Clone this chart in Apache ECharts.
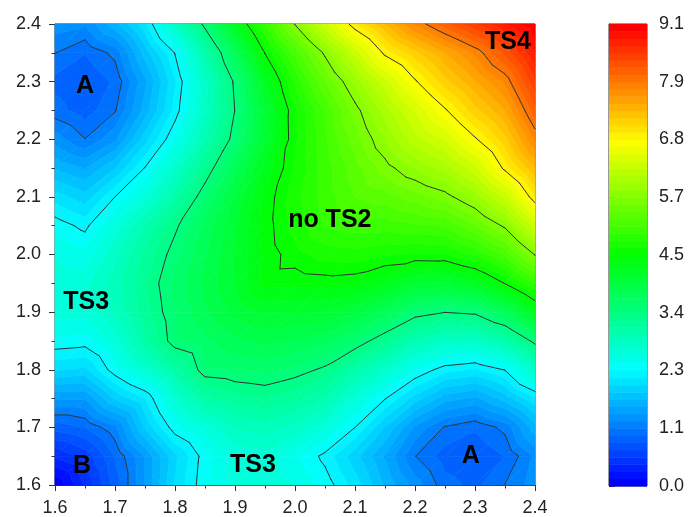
<!DOCTYPE html>
<html>
<head>
<meta charset="utf-8">
<script src="https://cdn.jsdelivr.net/npm/echarts@6/dist/echarts.min.js"></script>
<style>
  html, body { margin: 0; padding: 0; background: #fff; }
  #chart { width: 693px; height: 517px; }
</style>
</head>
<body>
<div id="chart"></div>
<script>
  // grid nodes (x = columns, y = rows)
  var xs = [1.60, 1.65, 1.70, 1.75, 1.80, 1.85, 1.90, 1.95, 2.00, 2.05, 2.10, 2.15, 2.20, 2.25, 2.30, 2.35, 2.40];
  var ys = [1.60, 1.65, 1.70, 1.75, 1.80, 1.85, 1.90, 1.95, 2.00, 2.05, 2.10, 2.15, 2.20, 2.25, 2.30, 2.35, 2.40];

  // energy, one row per y (bottom to top)
  var energy = [
    [0.00, 0.45, 0.91, 1.43, 2.00, 2.38, 2.60, 2.65, 2.55, 2.36, 2.06, 1.68, 1.35, 1.05, 0.95, 1.14, 1.35],
    [0.45, 0.62, 1.00, 1.43, 1.95, 2.35, 2.60, 2.65, 2.45, 2.22, 1.90, 1.55, 1.14, 0.92, 0.86, 1.00, 1.30],
    [0.91, 1.00, 1.25, 1.86, 2.37, 2.62, 2.85, 2.90, 2.80, 2.60, 2.27, 1.84, 1.39, 1.12, 1.02, 1.18, 1.65],
    [1.43, 1.43, 1.86, 2.12, 2.69, 3.08, 3.20, 3.25, 3.15, 3.00, 2.62, 2.28, 1.92, 1.62, 1.53, 1.76, 2.10],
    [2.00, 1.95, 2.37, 2.69, 3.07, 3.51, 3.55, 3.59, 3.50, 3.36, 3.05, 2.75, 2.42, 2.18, 2.11, 2.28, 2.79],
    [2.38, 2.35, 2.62, 3.08, 3.51, 3.65, 3.80, 3.87, 3.81, 3.73, 3.54, 3.26, 2.96, 2.80, 2.77, 3.00, 3.48],
    [2.60, 2.60, 2.85, 3.20, 3.55, 3.80, 4.02, 4.13, 4.12, 4.10, 3.99, 3.77, 3.50, 3.41, 3.45, 3.76, 4.25],
    [2.65, 2.65, 2.90, 3.25, 3.59, 3.87, 4.13, 4.45, 4.44, 4.46, 4.43, 4.29, 4.10, 4.07, 4.22, 4.55, 4.98],
    [2.55, 2.45, 2.80, 3.15, 3.50, 3.81, 4.12, 4.44, 4.63, 4.74, 4.77, 4.70, 4.66, 4.67, 4.85, 5.14, 5.69],
    [2.36, 2.22, 2.60, 3.00, 3.36, 3.73, 4.10, 4.46, 4.74, 4.98, 5.03, 5.03, 5.08, 5.12, 5.38, 5.72, 6.33],
    [2.06, 1.90, 2.27, 2.62, 3.05, 3.54, 3.99, 4.43, 4.77, 5.03, 5.25, 5.33, 5.46, 5.60, 5.87, 6.29, 6.93],
    [1.68, 1.55, 1.84, 2.28, 2.75, 3.26, 3.77, 4.29, 4.70, 5.03, 5.33, 5.60, 5.83, 6.02, 6.33, 6.86, 7.37],
    [1.35, 1.14, 1.39, 1.92, 2.42, 2.96, 3.50, 4.10, 4.66, 5.08, 5.46, 5.83, 6.18, 6.40, 6.78, 7.18, 7.82],
    [1.05, 0.92, 1.12, 1.62, 2.18, 2.80, 3.41, 4.07, 4.67, 5.12, 5.60, 6.02, 6.40, 6.78, 7.18, 7.51, 8.17],
    [0.95, 0.86, 1.02, 1.53, 2.11, 2.77, 3.45, 4.22, 4.85, 5.38, 5.87, 6.33, 6.78, 7.18, 7.50, 7.83, 8.48],
    [1.14, 1.00, 1.18, 1.76, 2.28, 3.00, 3.76, 4.55, 5.14, 5.72, 6.29, 6.86, 7.18, 7.51, 7.83, 8.27, 8.79],
    [1.35, 1.30, 1.65, 2.10, 2.79, 3.48, 4.25, 4.98, 5.69, 6.33, 6.93, 7.37, 7.82, 8.17, 8.48, 8.79, 9.08]
  ];

  var zMin = 0;
  var zMax = 9.08;
  var nBands = 64;
  var lineLevels = [1.135, 2.27, 3.405, 4.54, 5.675, 6.81, 7.945];

  var pointLabels = ['A', 'A', 'B', 'TS3', 'TS3', 'no TS2', 'TS4'];
  var labelX = [1.650, 2.293, 1.645, 1.652, 1.930, 2.058, 2.355];
  var labelY = [2.292, 1.650, 1.633, 1.917, 1.634, 2.060, 2.369];

  var step = (zMax - zMin) / nBands;

  // rainbow: blue - cyan - green - yellow - red
  var stops = [[0, 0, 255], [0, 255, 255], [0, 255, 0], [255, 255, 0], [255, 0, 0]];
  function rainbow(t) {
    t = Math.max(0, Math.min(1, t)) * (stops.length - 1);
    var k = Math.min(Math.floor(t), stops.length - 2), f = t - k;
    var a = stops[k], b = stops[k + 1];
    return 'rgb(' + Math.round(a[0] + f * (b[0] - a[0])) + ',' +
      Math.round(a[1] + f * (b[1] - a[1])) + ',' + Math.round(a[2] + f * (b[2] - a[2])) + ')';
  }
  var bandColors = [];
  for (var k = 0; k < nBands; k++) bandColors.push(rainbow(k / (nBands - 1)));

  function clip(poly, level, keepAbove) {
    var out = [];
    for (var k = 0; k < poly.length; k++) {
      var a = poly[k], b = poly[(k + 1) % poly.length];
      var ina = keepAbove ? a[2] >= level : a[2] <= level;
      var inb = keepAbove ? b[2] >= level : b[2] <= level;
      if (ina) out.push(a);
      if (ina !== inb) {
        var t = (level - a[2]) / (b[2] - a[2]);
        out.push([a[0] + t * (b[0] - a[0]), a[1] + t * (b[1] - a[1]), level]);
      }
    }
    return out;
  }

  function cellTriangles(api) {
    var i = api.value(2), j = api.value(3);
    var p00 = api.coord([xs[i], ys[j]]), p10 = api.coord([xs[i + 1], ys[j]]);
    var p01 = api.coord([xs[i], ys[j + 1]]), p11 = api.coord([xs[i + 1], ys[j + 1]]);
    var a = [p00[0], p00[1], energy[j][i]];
    var b = [p10[0], p10[1], energy[j][i + 1]];
    var c = [p11[0], p11[1], energy[j + 1][i + 1]];
    var d = [p01[0], p01[1], energy[j + 1][i]];
    return [[a, b, c], [a, c, d]];
  }

  function renderFill(params, api) {
    var children = [];
    cellTriangles(api).forEach(function (tri) {
      var vs = tri.map(function (p) { return p[2]; });
      var k0 = Math.max(0, Math.floor((Math.min.apply(null, vs) - zMin) / step));
      var k1 = Math.min(nBands - 1, Math.floor((Math.max.apply(null, vs) - zMin) / step));
      for (var k = k0; k <= k1; k++) {
        var lo = zMin + k * step, hi = k === nBands - 1 ? 1e9 : lo + step;
        var poly = clip(clip(tri, lo, true), hi, false);
        if (poly.length < 3) continue;
        children.push({
          type: 'polygon',
          shape: { points: poly.map(function (p) { return [p[0], p[1]]; }) },
          style: { fill: bandColors[k], stroke: bandColors[k], lineWidth: 0.7 }
        });
      }
    });
    return { type: 'group', children: children };
  }

  function renderLines(params, api) {
    var children = [];
    cellTriangles(api).forEach(function (tri) {
      lineLevels.forEach(function (L) {
        var pts = [];
        for (var k = 0; k < 3; k++) {
          var a = tri[k], b = tri[(k + 1) % 3];
          if ((a[2] >= L) !== (b[2] >= L)) {
            var t = (L - a[2]) / (b[2] - a[2]);
            pts.push([a[0] + t * (b[0] - a[0]), a[1] + t * (b[1] - a[1])]);
          }
        }
        if (pts.length === 2) {
          children.push({
            type: 'line',
            shape: { x1: pts[0][0], y1: pts[0][1], x2: pts[1][0], y2: pts[1][1] },
            style: { stroke: '#333', lineWidth: 1, lineCap: 'round' }
          });
        }
      });
    });
    return { type: 'group', children: children };
  }

  function renderBar(params, api) {
    var k = api.value(2);
    var p0 = api.coord([0, zMin + k * step]);
    var p1 = api.coord([1, zMin + (k + 1) * step]);
    return {
      type: 'rect',
      shape: { x: p0[0], y: p1[1], width: p1[0] - p0[0], height: p0[1] - p1[1] + 0.5 },
      style: { fill: bandColors[k] }
    };
  }

  var cells = [];
  for (var j = 0; j < ys.length - 1; j++) {
    for (var i = 0; i < xs.length - 1; i++) cells.push([xs[i], ys[j], i, j]);
  }
  var bands = [];
  for (var k = 0; k < nBands; k++) bands.push([0.5, zMin + (k + 0.5) * step, k]);

  var labelData = pointLabels.map(function (n, idx) {
    return { name: n, value: [labelX[idx], labelY[idx]] };
  });

  var fontName = 'Liberation Sans, Arial, sans-serif';
  var axisText = { fontSize: 18, color: '#222', fontFamily: fontName };
  function mainAxis(pos) {
    return {
      type: 'value', gridIndex: 0, position: pos, min: 1.6, max: 2.4, interval: 0.1,
      axisLine: { show: true, lineStyle: { color: '#333', width: 1 } },
      axisTick: { show: true, inside: false, length: 6, lineStyle: { color: '#333' } },
      minorTick: { show: true, splitNumber: 2, length: 3.5, lineStyle: { color: '#333' } },
      splitLine: { show: false }, minorSplitLine: { show: false },
      axisLabel: Object.assign({ margin: 14, formatter: function (v) { return v.toFixed(1); } }, axisText)
    };
  }

  var chart = echarts.init(document.getElementById('chart'), null, { renderer: 'canvas' });
  chart.setOption({
    animation: false,
    backgroundColor: '#fff',
    grid: [
      { left: 55, top: 24, width: 480, height: 461, show: true, borderColor: '#333', borderWidth: 1, backgroundColor: 'transparent', outerBoundsMode: 'none' },
      { left: 609, top: 24, width: 38, height: 462, show: true, borderColor: '#333', borderWidth: 1, backgroundColor: 'transparent', outerBoundsMode: 'none' }
    ],
    xAxis: [
      mainAxis('bottom'),
      { type: 'value', gridIndex: 1, min: 0, max: 1, show: false }
    ],
    yAxis: [
      mainAxis('left'),
      {
        type: 'value', gridIndex: 1, position: 'right', min: zMin, max: zMax, interval: (zMax - zMin) / 8,
        axisLine: { show: true, lineStyle: { color: '#333', width: 1 } },
        axisTick: { show: true, inside: false, length: 6, lineStyle: { color: '#333' } },
        splitLine: { show: false },
        axisLabel: Object.assign({ margin: 12, formatter: function (v) { return v.toFixed(1); } }, axisText)
      }
    ],
    series: [
      { type: 'custom', xAxisIndex: 0, yAxisIndex: 0, data: cells, encode: { x: 0, y: 1 }, renderItem: renderFill, silent: true, z: 1 },
      { type: 'custom', xAxisIndex: 0, yAxisIndex: 0, data: cells, encode: { x: 0, y: 1 }, renderItem: renderLines, silent: true, z: 2 },
      {
        type: 'scatter', xAxisIndex: 0, yAxisIndex: 0, data: labelData, symbolSize: 1,
        itemStyle: { color: 'rgba(0,0,0,0)', opacity: 1 }, silent: true, z: 5,
        label: {
          show: true, position: 'inside', formatter: '{b}', color: '#000', opacity: 1,
          fontSize: 25, fontWeight: 'bold', fontFamily: fontName
        },
        labelLayout: { hideOverlap: false }
      },
      { type: 'custom', xAxisIndex: 1, yAxisIndex: 1, data: bands, encode: { x: 0, y: 1 }, renderItem: renderBar, silent: true, z: 1 }
    ]
  });
</script>
</body>
</html>
